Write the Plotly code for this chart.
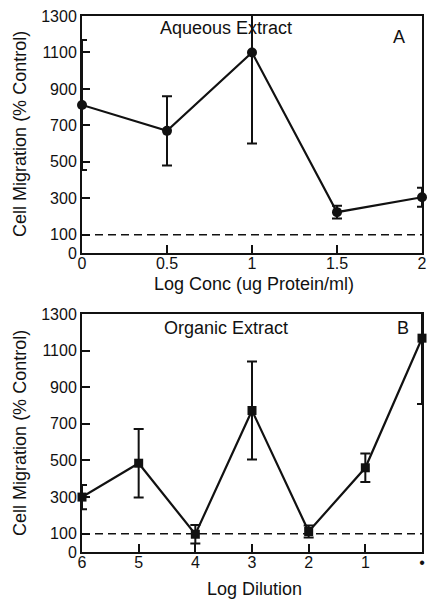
import plotly.graph_objects as go

# Panel A: Aqueous extract
conc_x = [0, 0.5, 1, 1.5, 2]
conc_labels = ["0", "0.5", "1", "1.5", "2"]
conc_y = [812, 670, 1100, 224, 306]
conc_err = [357, 190, 500, 35, 52]

# Panel B: Organic extract
dil_labels = ["6", "5", "4", "3", "2", "1", "•"]
dil_pos = [0, 1, 2, 3, 4, 5, 6]
dil_y = [300, 485, 97, 773, 112, 460, 1168]
dil_err = [66, 187, 50, 268, 33, 78, 360]

ytick_vals = [0, 100, 300, 500, 700, 900, 1100, 1300]
control_level = 100

FONT = "Liberation Sans, Arial, Helvetica, sans-serif"
BLACK = "#111111"

fig = go.Figure()

# error bars (clipped to plot area)
fig.add_trace(go.Scatter(x=conc_x, y=conc_y, mode="markers",
                         marker=dict(size=1, color="rgba(0,0,0,0)"),
                         error_y=dict(type="data", array=conc_err, visible=True,
                                      color=BLACK, thickness=2, width=5),
                         xaxis="x", yaxis="y", showlegend=False, hoverinfo="skip"))
fig.add_trace(go.Scatter(x=conc_x, y=conc_y, mode="lines+markers",
                         line=dict(color=BLACK, width=2.2),
                         marker=dict(symbol="circle", size=10, color=BLACK),
                         cliponaxis=False, xaxis="x", yaxis="y", showlegend=False))

fig.add_trace(go.Scatter(x=dil_pos, y=dil_y, mode="markers",
                         marker=dict(size=1, color="rgba(0,0,0,0)"),
                         error_y=dict(type="data", array=dil_err, visible=True,
                                      color=BLACK, thickness=2, width=5),
                         xaxis="x2", yaxis="y2", showlegend=False, hoverinfo="skip"))
fig.add_trace(go.Scatter(x=dil_pos, y=dil_y, mode="lines+markers",
                         line=dict(color=BLACK, width=2.2),
                         marker=dict(symbol="square", size=9, color=BLACK),
                         cliponaxis=False, xaxis="x2", yaxis="y2", showlegend=False))

# control reference lines
for xr, yr in (("x domain", "y"), ("x2 domain", "y2")):
    fig.add_shape(type="line", xref=xr, yref=yr, x0=0, x1=1,
                  y0=control_level, y1=control_level,
                  line=dict(color=BLACK, width=1.5, dash="8px,5px"))

axis_common = dict(showline=True, linecolor=BLACK, linewidth=2, mirror=True,
                   ticks="inside", ticklen=8, tickwidth=1.5, tickcolor=BLACK,
                   showgrid=False, zeroline=False, ticklabeloverflow="allow",
                   tickfont=dict(family=FONT, size=16, color=BLACK))

H = 600
top_px, mid1_px, mid2_px, bot_px = 16, 253, 314, 552
plot_h = bot_px - top_px
def frac(p):
    return (bot_px - p) / plot_h

fig.update_layout(
    width=429, height=600,
    margin=dict(l=82, r=2, t=top_px, b=H - bot_px),
    paper_bgcolor="white", plot_bgcolor="white",
    font=dict(family=FONT, color=BLACK),
    xaxis=dict(range=[0, 2], tickvals=conc_x, ticktext=conc_labels,
               domain=[0, 1], anchor="y", ticklabelstandoff=-5, **axis_common),
    yaxis=dict(range=[0, 1300], tickvals=ytick_vals, domain=[frac(mid1_px), 1],
               anchor="x", **axis_common),
    xaxis2=dict(range=[0, 6], tickvals=dil_pos, ticktext=dil_labels,
                domain=[0, 1], anchor="y2", ticklabelstandoff=-5, **axis_common),
    yaxis2=dict(range=[0, 1300], tickvals=ytick_vals, domain=[0, frac(mid2_px)],
                anchor="x2", **axis_common),
)

def ann(text, x, y, size=18, **kw):
    fig.add_annotation(text=text, x=x, y=y, xref="paper", yref="paper",
                       showarrow=False, font=dict(family=FONT, size=size, color=BLACK),
                       xanchor="center", yanchor="middle", **kw)

W_plot = 429 - 82 - 2
def xf(px):
    return (px - 82) / W_plot

ann("Aqueous Extract", xf(228), frac(28))
ann("A", xf(404), frac(37))
ann("Organic Extract", xf(228), frac(328))
ann("B", xf(408), frac(328))
ann("Log Conc (ug Protein/ml)", xf(257), frac(284))
ann("Log Dilution", xf(257), frac(589))
ann("Cell Migration (% Control)", xf(19), frac(134), textangle=-90)
ann("Cell Migration (% Control)", xf(19), frac(433), textangle=-90)

fig.write_html("out.html", config={"displayModeBar": False},
               post_script="document.body.style.margin='0';document.body.style.overflow='hidden';")
